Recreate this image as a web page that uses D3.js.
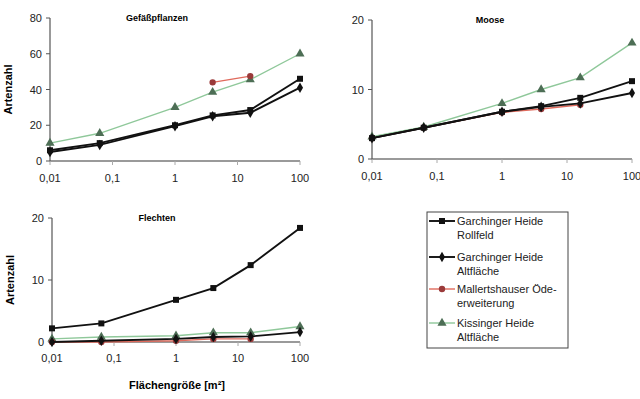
<!DOCTYPE html>
<html lang="de">
<head>
<meta charset="UTF-8">
<title>Arten-Areal-Kurven</title>
<script src="https://d3js.org/d3.v7.min.js"></script>
<style>
  body { margin: 0; background: #fff; }
  svg { font-family: "Liberation Sans", Arial, sans-serif; }
</style>
</head>
<body>
<svg width="640" height="399"></svg>
<script>
// Flächengrößen (m²) der verschachtelten Aufnahmeflächen
const areas = [0.01, 0.0625, 1, 4, 16, 100];
const xTicks = [0.01, 0.1, 1, 10, 100];
const xTickLabels = ["0,01", "0,1", "1", "10", "100"];

const seriesNames = [
  ["Garchinger Heide", "Rollfeld"],
  ["Garchinger Heide", "Altfläche"],
  ["Mallertshauser Öde-", "erweiterung"],
  ["Kissinger Heide", "Altfläche"]
];

// Gefäßpflanzen
const gefRollfeld = [6, 10, 20, 25.5, 28.5, 46];
const gefAltGarching = [5, 9, 19.5, 25, 27, 41];
const gefMallertshausen = [null, null, null, 44, 47.5, null];
const gefKissing = [10, 15.5, 30, 38.5, 45.5, 60];

// Moose
const mooRollfeld = [3, 4.5, 6.8, 7.6, 8.8, 11.2];
const mooAltGarching = [3, 4.5, 6.8, 7.5, 8, 9.5];
const mooMallertshausen = [3, 4.5, 6.7, 7.2, 7.8, null];
const mooKissing = [3.2, 4.6, 8, 10, 11.7, 16.7];

// Flechten
const fleRollfeld = [2.2, 3, 6.8, 8.7, 12.4, 18.4];
const fleAltGarching = [0, 0.2, 0.5, 0.8, 0.9, 1.6];
const fleMallertshausen = [0, 0, 0.2, 0.5, 0.5, null];
const fleKissing = [0.5, 0.8, 1, 1.5, 1.5, 2.5];

const styles = [
  { line: "#111", fill: "#111", symbol: d3.symbolSquare, size: 36, width: 1.9 },
  { line: "#111", fill: "#111", symbol: d3.symbolDiamond, size: 32, width: 1.9 },
  { line: "#e06a5c", fill: "#9a3a3a", symbol: d3.symbolCircle, size: 32, width: 1.4 },
  { line: "#8fc89a", fill: "#4d6e55", symbol: d3.symbolTriangle, size: 36, width: 1.4 }
];

const svg = d3.select("svg");

const panels = [
  { title: "Gefäßpflanzen", titleX: 157, x0: 50, x1: 300, yTop: 18, yBottom: 161,
    yMax: 80, yTicks: [0, 20, 40, 60, 80], yLabel: true, labelY: 182,
    series: [gefRollfeld, gefAltGarching, gefMallertshausen, gefKissing] },
  { title: "Moose", titleX: 490, x0: 372, x1: 632, yTop: 20, yBottom: 159,
    yMax: 20, yTicks: [0, 10, 20], yLabel: false, labelY: 180,
    series: [mooRollfeld, mooAltGarching, mooMallertshausen, mooKissing] },
  { title: "Flechten", titleX: 157, x0: 52, x1: 300, yTop: 218, yBottom: 342,
    yMax: 20, yTicks: [0, 10, 20], yLabel: true, labelY: 362,
    series: [fleRollfeld, fleAltGarching, fleMallertshausen, fleKissing] }
];

panels.forEach(p => {
  const x = d3.scaleLog().domain([0.01, 100]).range([p.x0, p.x1]);
  const y = d3.scaleLinear().domain([0, p.yMax]).range([p.yBottom, p.yTop]);
  const g = svg.append("g");

  // x-Achse
  g.append("line")
    .attr("x1", p.x0).attr("x2", p.x1)
    .attr("y1", p.yBottom).attr("y2", p.yBottom)
    .attr("stroke", "#9a9a9a").attr("stroke-width", 2);
  g.selectAll(".xt").data(xTicks).enter().append("line")
    .attr("x1", d => x(d)).attr("x2", d => x(d))
    .attr("y1", p.yBottom).attr("y2", p.yBottom + 4)
    .attr("stroke", "#aaa");
  g.selectAll(".xl").data(xTicks).enter().append("text")
    .attr("x", d => x(d)).attr("y", p.labelY)
    .attr("text-anchor", "middle")
    .attr("font-size", 11).attr("fill", "#222")
    .text((d, i) => xTickLabels[i]);

  // y-Achse
  g.append("line")
    .attr("x1", p.x0).attr("x2", p.x0)
    .attr("y1", p.yTop).attr("y2", p.yBottom)
    .attr("stroke", "#555").attr("stroke-width", 1.2);
  g.selectAll(".yt").data(p.yTicks).enter().append("line")
    .attr("x1", p.x0 - 4).attr("x2", p.x0)
    .attr("y1", d => y(d)).attr("y2", d => y(d))
    .attr("stroke", "#555");
  g.selectAll(".yl").data(p.yTicks).enter().append("text")
    .attr("x", p.x0 - 8).attr("y", d => y(d) + 4)
    .attr("text-anchor", "end")
    .attr("font-size", 11).attr("fill", "#222")
    .text(d => d);

  if (p.yLabel) {
    g.append("text")
      .attr("transform", `translate(${p.x0 - 38},${(p.yTop + p.yBottom) / 2}) rotate(-90)`)
      .attr("text-anchor", "middle")
      .attr("font-size", 11).attr("font-weight", "bold")
      .text("Artenzahl");
  }

  g.append("text")
    .attr("x", p.titleX).attr("y", p.yTop + 3)
    .attr("text-anchor", "middle")
    .attr("font-size", 9).attr("font-weight", "bold")
    .text(p.title);

  // Reihenfolge: grün, rot, dann schwarz oben
  [3, 2, 1, 0].forEach(si => {
    const vals = p.series[si];
    const st = styles[si];
    const pts = areas.map((a, i) => ({ a, v: vals[i] }));
    const line = d3.line()
      .defined(d => d.v !== null)
      .x(d => x(d.a)).y(d => y(d.v));
    g.append("path")
      .attr("d", line(pts))
      .attr("fill", "none")
      .attr("stroke", st.line)
      .attr("stroke-width", st.width);
    g.selectAll(null).data(pts.filter(d => d.v !== null)).enter().append("path")
      .attr("d", d3.symbol().type(st.symbol).size(st.size))
      .attr("transform", d => `translate(${x(d.a)},${y(d.v)})`)
      .attr("fill", st.fill);
  });
});

svg.append("text")
  .attr("x", 177).attr("y", 389)
  .attr("text-anchor", "middle")
  .attr("font-size", 11).attr("font-weight", "bold")
  .text("Flächengröße [m²]");

// Legende
const lg = svg.append("g");
lg.append("rect")
  .attr("x", 427).attr("y", 212).attr("width", 141).attr("height", 136)
  .attr("fill", "#fff").attr("stroke", "#444").attr("stroke-width", 1);
const legendY = [221, 257, 289, 323];
seriesNames.forEach((name, i) => {
  const st = styles[i];
  const yy = legendY[i];
  lg.append("line")
    .attr("x1", 429).attr("x2", 455).attr("y1", yy).attr("y2", yy)
    .attr("stroke", st.line).attr("stroke-width", st.width);
  lg.append("path")
    .attr("d", d3.symbol().type(st.symbol).size(st.size)())
    .attr("transform", `translate(442,${yy})`)
    .attr("fill", st.fill);
  lg.append("text")
    .attr("x", 457).attr("y", yy + 4)
    .attr("font-size", 11).attr("fill", "#222")
    .text(name[0]);
  lg.append("text")
    .attr("x", 457).attr("y", yy + 18)
    .attr("font-size", 11).attr("fill", "#222")
    .text(name[1]);
});
</script>
</body>
</html>
